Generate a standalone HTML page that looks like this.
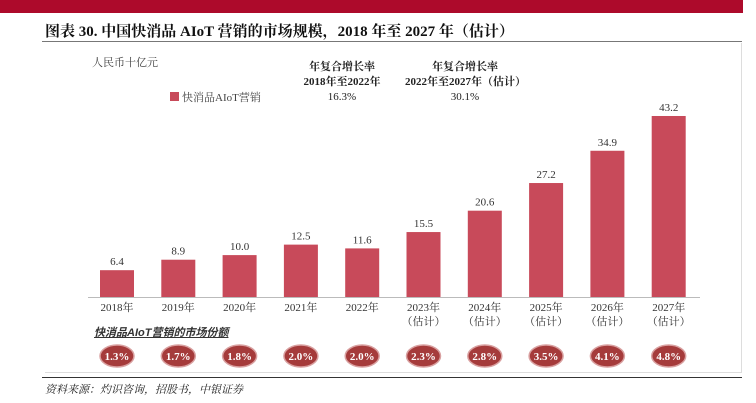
<!DOCTYPE html>
<html><head><meta charset="utf-8"><style>
body{margin:0;width:756px;height:403px;background:#fff;position:relative;overflow:hidden;font-family:"Liberation Serif","Noto Serif CJK SC",serif;}
.a{position:absolute;white-space:nowrap}
</style></head><body>
<div class="a" style="left:0;top:0;width:743px;height:13px;background:#ad0a2b"></div>
<div class="a" style="left:45px;top:20px;font-size:15px;font-weight:bold;color:#111">图表 30. 中国快消品 AIoT 营销的市场规模，2018 年至 2027 年（估计）</div>
<div class="a" style="left:42px;top:41px;width:700px;height:1px;background:#777"></div>
<div class="a" style="left:741px;top:43px;width:1px;height:330px;background:#ddd"></div>
<div class="a" style="left:45px;top:372px;width:697px;height:1px;background:#ddd"></div>
<div class="a" style="left:92px;top:54px;font-size:11px;color:#444">人民币十亿元</div>
<div class="a" style="left:170px;top:89px;font-size:11px;color:#444"><span style="display:inline-block;width:9px;height:9px;background:#c84a5a;margin-right:3px"></span>快消品AIoT营销</div>
<div class="a" style="left:302px;top:60px;width:80px;text-align:center;font-size:11px;line-height:15px;color:#222"><b>年复合增长率<br>2018年至2022年</b><br>16.3%</div>
<div class="a" style="left:405px;top:60px;width:120px;text-align:center;font-size:11px;line-height:15px;color:#222"><b>年复合增长率<br>2022年至2027年（估计）</b><br>30.1%</div>
<div class="a" style="left:94px;top:324px;font-size:11px;font-style:italic;font-weight:bold;text-decoration:underline;color:#333;font-family:'Liberation Sans','Noto Sans CJK SC',sans-serif">快消品AIoT营销的市场份额</div>
<div class="a" style="left:42px;top:377px;width:700px;height:1px;background:#333"></div>
<div class="a" style="left:45px;top:381px;font-size:11px;font-style:italic;color:#222">资料来源：灼识咨询，招股书，中银证券</div>
<svg id="c" class="a" style="left:0;top:0" width="756" height="403"></svg>
<script>
const years=['2018年','2019年','2020年','2021年','2022年','2023年','2024年','2025年','2026年','2027年'];
const est=[false,false,false,false,false,true,true,true,true,true];
const values=[6.4,8.9,10.0,12.5,11.6,15.5,20.6,27.2,34.9,43.2];
const valueLabels=['6.4','8.9','10.0','12.5','11.6','15.5','20.6','27.2','34.9','43.2'];
const shares=['1.3%','1.7%','1.8%','2.0%','2.0%','2.3%','2.8%','3.5%','4.1%','4.8%'];
const svg=document.getElementById('c'),NS='http://www.w3.org/2000/svg';
const x=i=>117+i*61.3, y=v=>297-v*4.19;
function mk(t,a,txt){const e=document.createElementNS(NS,t);for(const k in a)e.setAttribute(k,a[k]);if(txt!=null)e.textContent=txt;svg.appendChild(e);return e;}
const ax=mk('line',{x1:88,x2:700,y1:297.5,y2:297.5,stroke:'#bbb'});


values.forEach((v,i)=>{
const r=mk('rect',{x:x(i)-17,y:y(v),width:34,height:297-y(v),fill:'#c84a5a'});


const t=mk('text',{x:x(i),y:y(v)-5,'text-anchor':'middle','font-size':11,fill:'#333'},valueLabels[i]);


const yl=mk('text',{x:x(i),y:311,'text-anchor':'middle','font-size':11,fill:'#333'},years[i]);


if(est[i]){const e=mk('text',{x:x(i),y:325,'text-anchor':'middle','font-size':11,fill:'#333'},'（估计）');

}
const b=mk('ellipse',{cx:x(i),cy:356,rx:17,ry:11,fill:'#a53b3b',stroke:'#d9a0a0','stroke-width':1.5});


const s=mk('text',{x:x(i),y:360,'text-anchor':'middle','font-size':11,'font-weight':'bold',fill:'#fff'},shares[i]);


});
</script>
</body></html>
